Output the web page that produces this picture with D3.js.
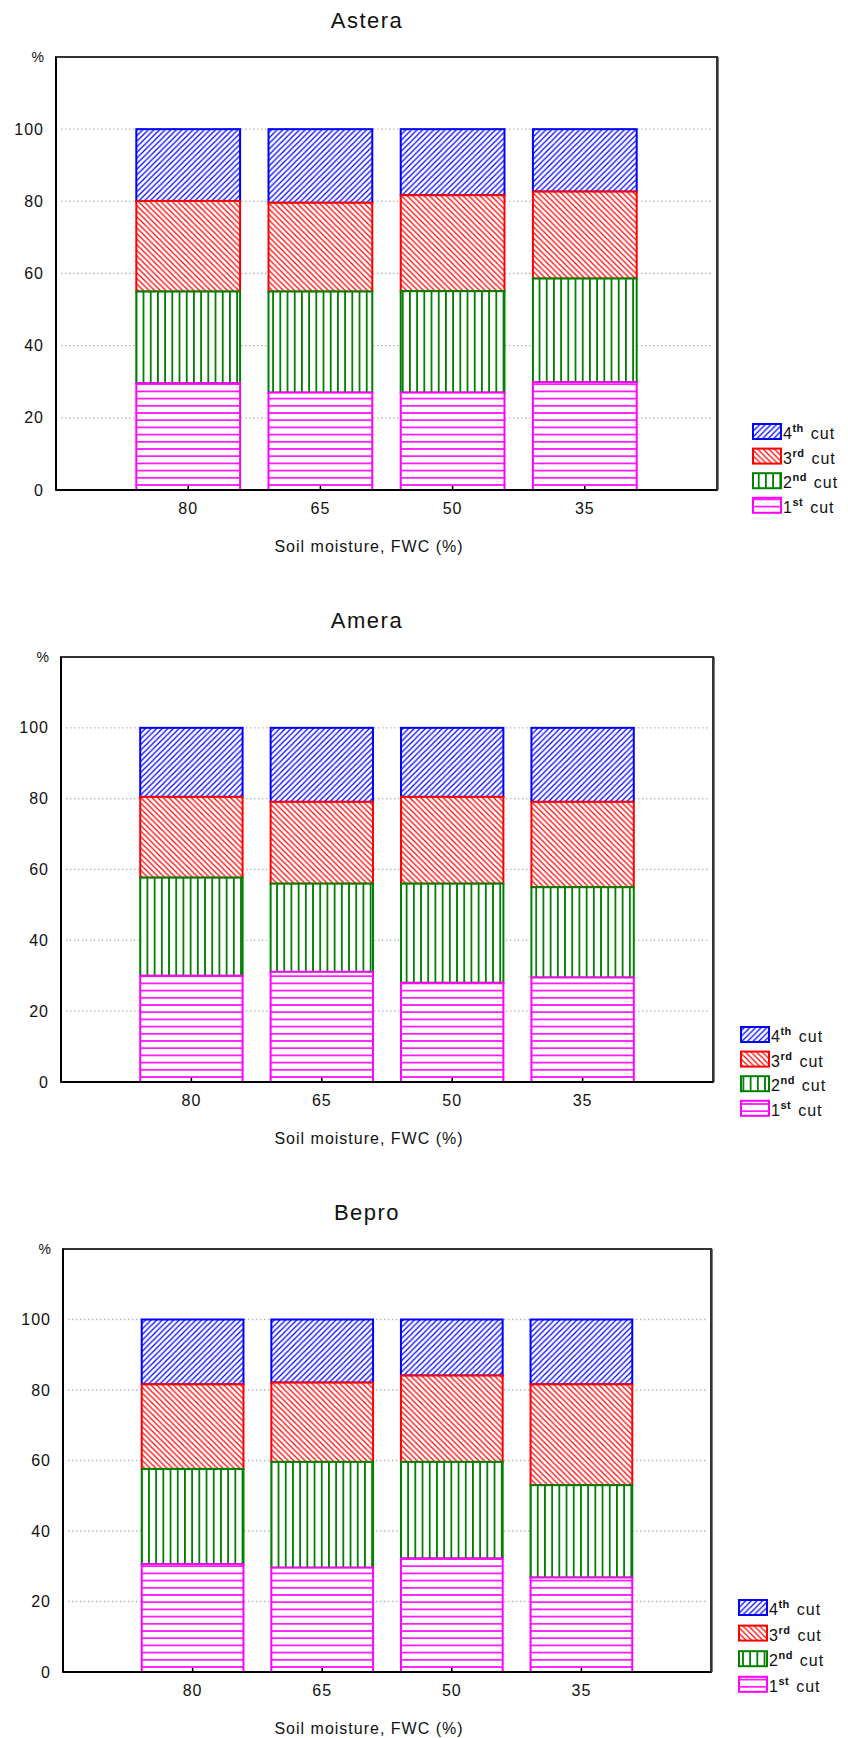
<!DOCTYPE html>
<html>
<head>
<meta charset="utf-8">
<script src="https://cdn.jsdelivr.net/npm/d3@7"></script>
<style>
  body { margin: 0; background: #fff; }
  svg text { font-family: "Liberation Sans", Arial, sans-serif; fill: #111; }
  .axis text { font-size: 16px; letter-spacing: 1px; }
  .axis .domain { display: none; }
</style>
</head>
<body>
<div id="chart"></div>
<script>
const moisture = ["80", "65", "50", "35"];
const yTicks = [0, 20, 40, 60, 80, 100];
const cutKeys = ["cut1", "cut2", "cut3", "cut4"];
const cutNums = ["1", "2", "3", "4"];
const cutSups = ["st", "nd", "rd", "th"];
const varieties = ["Astera", "Amera", "Bepro"];

// share of each cut in total yield, %
const asteraCut1 = [29.6, 27.0, 27.0, 29.9];
const asteraCut2 = [25.4, 28.0, 28.1, 28.7];
const asteraCut3 = [25.1, 24.6, 26.6, 24.1];
const asteraCut4 = [19.9, 20.4, 18.3, 17.3];

const ameraCut1 = [30.0, 31.1, 28.0, 29.5];
const ameraCut2 = [27.7, 24.9, 28.0, 25.5];
const ameraCut3 = [22.8, 23.1, 24.5, 24.1];
const ameraCut4 = [19.5, 20.9, 19.5, 20.9];

const beproCut1 = [30.6, 29.6, 32.2, 26.8];
const beproCut2 = [27.0, 30.0, 27.4, 26.2];
const beproCut3 = [24.0, 22.5, 24.5, 28.6];
const beproCut4 = [18.4, 17.9, 15.9, 18.4];

const seriesByVariety = [
    [asteraCut1, asteraCut2, asteraCut3, asteraCut4],
    [ameraCut1, ameraCut2, ameraCut3, ameraCut4],
    [beproCut1, beproCut2, beproCut3, beproCut4],
];

// plot frames, one per panel
const layouts = [
    { top: 57, bottom: 490, left: 56, right: 717, legendX: 752, legendY: 423, legendStep: 24.6 },
    { top: 657, bottom: 1082, left: 61, right: 713, legendX: 740, legendY: 1026, legendStep: 24.6 },
    { top: 1249, bottom: 1672, left: 63, right: 711, legendX: 738, legendY: 1599, legendStep: 25.6 },
];

const cutStyles = {
    cut1: { color: "#ff00ff", kind: "h" },
    cut2: { color: "#008000", kind: "v" },
    cut3: { color: "#ff0000", kind: "back" },
    cut4: { color: "#0000ff", kind: "fwd" },
};

const svg = d3.select("#chart")
    .append("svg")
    .attr("width", 848)
    .attr("height", 1738);

const defs = svg.append("defs");

function makePattern(id, key, tx, ty) {
    const st = cutStyles[key];
    const s = st.kind === "h" || st.kind === "v" ? 7.2 : 5.6;
    const p = defs.append("pattern")
        .attr("id", id)
        .attr("patternUnits", "userSpaceOnUse")
        .attr("width", s)
        .attr("height", s)
        .attr("patternTransform", `translate(${tx},${ty})`);
    p.append("rect").attr("width", s).attr("height", s).attr("fill", "#fff");
    let d, w;
    if (st.kind === "h") {
        d = `M0,${s / 2}H${s}`; w = 1.6;
    } else if (st.kind === "v") {
        d = `M${s / 2},0V${s}`; w = 1.8;
    } else if (st.kind === "fwd") {
        d = `M0,${s}L${s},0M${-s / 2},${s / 2}L${s / 2},${-s / 2}M${s / 2},${s * 1.5}L${s * 1.5},${s / 2}`; w = 1.2;
    } else {
        d = `M0,0L${s},${s}M${-s / 2},${s / 2}L${s / 2},${s * 1.5}M${s / 2},${-s / 2}L${s * 1.5},${s / 2}`; w = 1.2;
    }
    p.append("path").attr("d", d).attr("stroke", st.color).attr("stroke-width", w).attr("fill", "none");
}

varieties.forEach((name, ci) => {
    const L = layouts[ci];
    const rows = moisture.map((m, i) => {
        const r = { moisture: m };
        cutKeys.forEach((k, j) => { r[k] = seriesByVariety[ci][j][i]; });
        return r;
    });

    const x = d3.scaleBand()
        .domain(moisture)
        .range([L.left, L.right])
        .paddingInner(0.215)
        .paddingOuter(0.6075);

    const y = d3.scaleLinear()
        .domain([0, 120])
        .range([L.bottom, L.top]);

    cutKeys.forEach((k) => makePattern(`p${ci}-${k}`, k, x(moisture[0]) - 3.6, L.bottom - 8.6));

    const g = svg.append("g");

    // title
    g.append("text")
        .attr("x", 367)
        .attr("y", L.top - 36.5)
        .attr("dy", "0.35em")
        .attr("text-anchor", "middle")
        .style("font-size", "22px")
        .style("letter-spacing", "1.5px")
        .text(name);

    // dotted gridlines
    g.append("g")
        .selectAll("line")
        .data(yTicks.filter((t) => t > 0))
        .join("line")
        .attr("x1", L.left + 5)
        .attr("x2", L.right - 5)
        .attr("y1", (d) => y(d))
        .attr("y2", (d) => y(d))
        .attr("stroke", "#b4b4b4")
        .attr("stroke-width", 1.3)
        .attr("stroke-dasharray", "1.4,2.6");

    // stacked bars, drawn top-down so lower segment borders stay on top
    const stacked = d3.stack().keys(cutKeys)(rows);
    const bars = g.append("g");
    stacked.slice().reverse().forEach((layer) => {
        bars.append("g")
            .selectAll("rect")
            .data(layer)
            .join("rect")
            .attr("x", (d) => x(d.data.moisture))
            .attr("width", x.bandwidth())
            .attr("y", (d) => y(d[1]))
            .attr("height", (d) => y(d[0]) - y(d[1]))
            .attr("fill", `url(#p${ci}-${layer.key})`)
            .attr("stroke", cutStyles[layer.key].color)
            .attr("stroke-width", 2);
    });

    // frame
    g.append("rect")
        .attr("x", L.left)
        .attr("y", L.top)
        .attr("width", L.right - L.left)
        .attr("height", L.bottom - L.top)
        .attr("fill", "none")
        .attr("stroke", "#333")
        .attr("stroke-width", 2);
    g.append("line")
        .attr("x1", L.right + 1.5).attr("x2", L.right + 1.5)
        .attr("y1", L.top).attr("y2", L.bottom)
        .attr("stroke", "#777").attr("stroke-width", 1);
    g.append("line")
        .attr("x1", L.left).attr("x2", L.left)
        .attr("y1", L.top).attr("y2", L.bottom)
        .attr("stroke", "#000").attr("stroke-width", 2);
    g.append("line")
        .attr("x1", L.left).attr("x2", L.right)
        .attr("y1", L.bottom).attr("y2", L.bottom)
        .attr("stroke", "#000").attr("stroke-width", 2);

    // axes
    const yAxis = g.append("g")
        .attr("class", "axis")
        .attr("transform", `translate(${L.left},0)`)
        .call(d3.axisLeft(y).tickValues(yTicks).tickSize(0).tickPadding(12));
    yAxis.selectAll("text").attr("fill", "#111");

    const xAxis = g.append("g")
        .attr("class", "axis")
        .attr("transform", `translate(0,${L.bottom})`)
        .call(d3.axisBottom(x).tickSizeInner(-4).tickSizeOuter(0).tickPadding(13));
    xAxis.selectAll("line").attr("stroke", "#000").attr("stroke-width", 1.5);
    xAxis.selectAll("text").attr("fill", "#111");

    g.append("text")
        .attr("x", L.left - 12)
        .attr("y", L.top)
        .attr("dy", "0.35em")
        .attr("text-anchor", "end")
        .style("font-size", "14px")
        .text("%");

    g.append("text")
        .attr("x", 369)
        .attr("y", L.bottom + 56)
        .attr("dy", "0.35em")
        .attr("text-anchor", "middle")
        .style("font-size", "16px")
        .style("letter-spacing", "1px")
        .text("Soil moisture, FWC (%)");

    // legend, 4th cut on top
    const legend = g.append("g")
        .selectAll("g")
        .data(cutKeys.map((k, i) => ({ key: k, num: cutNums[i], sup: cutSups[i] })).reverse())
        .join("g")
        .attr("transform", (d, i) => `translate(${L.legendX},${L.legendY + i * L.legendStep})`);

    legend.append("rect")
        .attr("x", 1)
        .attr("y", 1)
        .attr("width", 28)
        .attr("height", 15)
        .attr("fill", (d) => `url(#p${ci}-${d.key})`)
        .attr("stroke", (d) => cutStyles[d.key].color)
        .attr("stroke-width", 2);

    const lt = legend.append("text")
        .attr("x", 31)
        .attr("y", 16)
        .style("font-size", "16px")
        .style("letter-spacing", "0.5px");
    lt.append("tspan").text((d) => d.num);
    lt.append("tspan")
        .attr("dy", -7)
        .style("font-size", "11px")
        .style("font-weight", "bold")
        .text((d) => d.sup);
    lt.append("tspan")
        .attr("dy", 7)
        .attr("dx", 7)
        .style("letter-spacing", "1px")
        .text("cut");
});
</script>
</body>
</html>
